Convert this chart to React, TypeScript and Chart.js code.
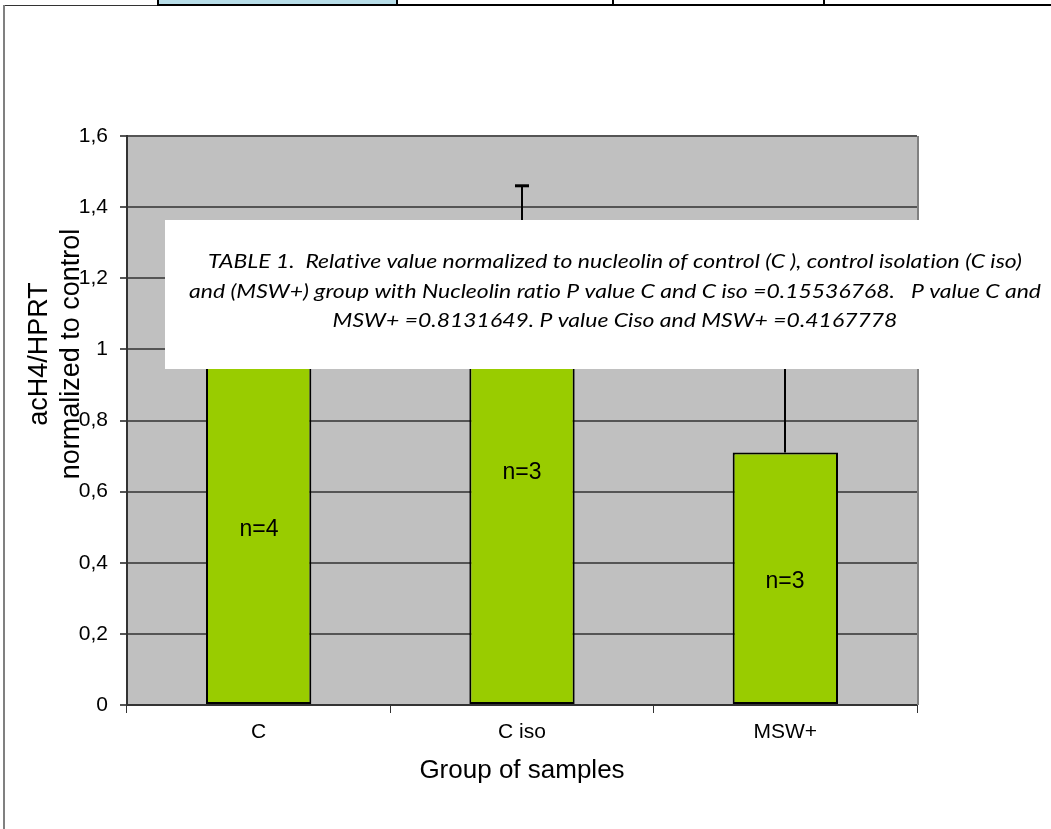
import React, { useEffect, useRef } from "react";
import { Chart, registerables } from "chart.js";

Chart.register(...registerables);

// Groups, mean ratios and their (upper) error bars
const categories = ["C", "C iso", "MSW+"];
const ratioValues = [1.0, 1.32, 0.71];
const errorValues = [0.2, 0.14, 0.4];
const sampleLabels = ["n=4", "n=3", "n=3"];

// Value axis ticks (decimal comma)
const yTickValues = [0, 0.2, 0.4, 0.6, 0.8, 1, 1.2, 1.4, 1.6];
const yTickLabels = ["0", "0,2", "0,4", "0,6", "0,8", "1", "1,2", "1,4", "1,6"];

const yTitleLines = ["acH4/HPRT", "normalized to control"];
const xTitle = "Group of samples";

const noteLines = [
  "TABLE 1.  Relative value normalized to nucleolin of control (C ), control isolation (C iso)",
  "and (MSW+) group with Nucleolin ratio P value C and C iso =0.15536768.   P value C and",
  "MSW+ =0.8131649. P value Ciso and MSW+ =0.4167778",
];

const W = 1051;
const H = 829;
const SANS = '"Liberation Sans", Arial, sans-serif';
const NOTE_FONT = 'Lato, "Open Sans", sans-serif';
const BAR_FILL = "#99cc00";
const PLOT_FILL = "#c0c0c0";

// Page frame: table row fragment on top and the left rule
const framePlugin = {
  id: "frame",
  beforeDraw(chart: any) {
    const { ctx, chartArea } = chart;
    ctx.save();
    ctx.fillStyle = "#ffffff";
    ctx.fillRect(0, 0, W, H);

    // plot background
    ctx.fillStyle = PLOT_FILL;
    ctx.fillRect(chartArea.left, chartArea.top, chartArea.right - chartArea.left, chartArea.bottom - chartArea.top);

    // table cells
    ctx.fillStyle = "#b7dde8";
    ctx.fillRect(157, 0, 241, 5);
    ctx.fillStyle = "#000";
    ctx.fillRect(157, 0, 2, 6);
    ctx.fillRect(396, 0, 2, 6);
    ctx.fillRect(612, 0, 2, 6);
    ctx.fillRect(823, 0, 2, 6);
    ctx.fillRect(157, 4, W - 157, 2);
    ctx.fillStyle = "#333";
    ctx.fillRect(3, 5, 154, 1);
    ctx.fillStyle = "#808080";
    ctx.fillRect(3, 5, 2, H - 5);
    ctx.restore();
  },
  beforeDatasetsDraw(chart: any) {
    const { ctx, chartArea } = chart;
    ctx.save();
    ctx.fillStyle = "#808080";
    ctx.fillRect(chartArea.right, chartArea.top, 2, chartArea.bottom - chartArea.top);
    ctx.restore();
  },
};

// Upper error bars and sample counts inside the bars
const barExtrasPlugin = {
  id: "barExtras",
  afterDatasetsDraw(chart: any) {
    const { ctx } = chart;
    const yScale = chart.scales.y;
    const meta = chart.getDatasetMeta(0);
    ctx.save();
    meta.data.forEach((bar: any, i: number) => {
      const x = Math.round(bar.x);
      const yTop = yScale.getPixelForValue(ratioValues[i] + errorValues[i]);
      ctx.strokeStyle = "#000";
      ctx.lineWidth = 2;
      ctx.beginPath();
      ctx.moveTo(x, bar.y);
      ctx.lineTo(x, yTop);
      ctx.stroke();
      ctx.lineWidth = 3;
      ctx.beginPath();
      ctx.moveTo(x - 7, yTop);
      ctx.lineTo(x + 7, yTop);
      ctx.stroke();

      const yMid = (bar.y + bar.base) / 2 + 3;
      ctx.fillStyle = "#000";
      ctx.font = `23px ${SANS}`;
      ctx.textAlign = "center";
      ctx.textBaseline = "middle";
      ctx.fillText(sampleLabels[i], x, yMid);
    });
    ctx.restore();
  },
};

// Axis titles and the boxed note laid over the plot
const overlayPlugin = {
  id: "overlay",
  afterDraw(chart: any) {
    const { ctx, chartArea } = chart;
    ctx.save();
    ctx.fillStyle = "#000";
    ctx.textAlign = "center";
    ctx.textBaseline = "middle";

    ctx.font = `27px ${SANS}`;
    const yCenter = 354;
    yTitleLines.forEach((line, i) => {
      ctx.save();
      ctx.translate(40 + i * 32, yCenter);
      ctx.rotate(-Math.PI / 2);
      ctx.fillText(line, 0, 0);
      ctx.restore();
    });

    ctx.font = `26px ${SANS}`;
    ctx.fillText(xTitle, (chartArea.left + chartArea.right) / 2, 771);

    // note box
    ctx.fillStyle = "#ffffff";
    ctx.fillRect(165, 220, W - 165, 149);
    ctx.fillStyle = "#000";
    const size = 20;
    ctx.font = `italic ${size}px ${NOTE_FONT}`;
    (ctx as any).letterSpacing = "0.01px";
    const widest = ctx.measureText(noteLines[1]).width;
    const squeeze = 852 / widest;
    ctx.textBaseline = "alphabetic";
    noteLines.forEach((line, i) => {
      ctx.save();
      ctx.translate(615, 268 + i * 29.5);
      ctx.scale(squeeze, 1);
      ctx.fillText(line, 0, 0);
      ctx.restore();
    });
    ctx.restore();
  },
};

export default function App() {
  const canvasRef = useRef<HTMLCanvasElement>(null);

  useEffect(() => {
    const canvas = canvasRef.current;
    if (!canvas) return;
    const chart = new Chart(canvas, {
      type: "bar",
      data: {
        labels: categories,
        datasets: [
          {
            data: ratioValues,
            backgroundColor: BAR_FILL,
            borderColor: "#000",
            borderWidth: 2,
            borderSkipped: false,
            barPercentage: 0.4,
            categoryPercentage: 1,
          },
        ],
      },
      options: {
        responsive: false,
        animation: false,
        devicePixelRatio: 1,
        layout: { padding: { top: 136, right: 134, left: 0, bottom: 0 } },
        plugins: {
          legend: { display: false },
          tooltip: { enabled: false },
          title: { display: false },
        },
        scales: {
          x: {
            afterFit: (s: any) => {
              s.height = 124;
            },
            offset: true,
            grid: {
              display: true,
              offset: true,
              drawOnChartArea: false,
              drawTicks: true,
              tickLength: 8,
              color: "#333",
              lineWidth: 1,
            },
            border: { display: true, color: "#333", width: 2 },
            ticks: { color: "#000", font: { family: SANS, size: 21 }, padding: 7 },
          },
          y: {
            min: 0,
            max: 1.6,
            afterFit: (s: any) => {
              s.width = 127;
            },
            afterBuildTicks: (s: any) => {
              s.ticks = yTickValues.map((v) => ({ value: v }));
            },
            grid: { color: "#555", lineWidth: 2, tickLength: 7, drawTicks: true },
            border: { display: true, color: "#333", width: 2 },
            ticks: {
              color: "#000",
              font: { family: SANS, size: 21 },
              padding: 12,
              callback: (_v: any, i: number) => yTickLabels[i],
            },
          },
        },
      },
      plugins: [framePlugin, barExtrasPlugin, overlayPlugin],
    });
    return () => chart.destroy();
  }, []);

  return (
    <div style={{ position: "absolute", left: 0, top: 0, width: W, height: H }}>
      <canvas ref={canvasRef} width={W} height={H} style={{ display: "block" }} />
    </div>
  );
}
